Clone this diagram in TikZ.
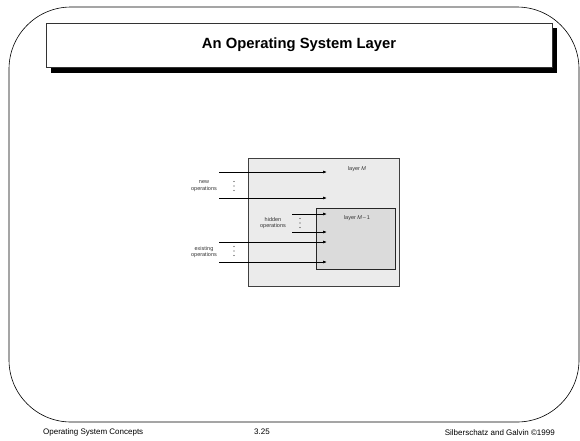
\documentclass[tikz,border=0pt]{standalone}
\usepackage{fontspec}
\setmainfont{Liberation Sans}
\usetikzlibrary{arrows.meta}

\begin{document}
\begin{tikzpicture}[x=1pt,y=-1pt,
  op/.style={-{Latex[length=4pt,width=3pt]},line width=0.7pt},
  lbl/.style={font=\fontsize{5.5}{6.2}\selectfont,align=center,text=black!80},
  foot/.style={font=\fontsize{8}{9}\selectfont,inner sep=0pt}]
  \useasboundingbox (0,0) rectangle (580,440);
  % slide frame
  \draw[rounded corners=62pt,line width=0.6pt] (9,7) rectangle (579,422);

  % title with shadow
  \fill (51,28) rectangle (557,73);
  \node[draw=black!80,fill=white,line width=0.5pt,minimum width=506pt,minimum height=44pt,inner sep=0pt,
    font=\bfseries\fontsize{14.8}{16}\selectfont] (title) at (299,45) {An Operating System Layer};

  % layers
  \node[draw=black!75,fill=black!8,line width=0.8pt,minimum width=151pt,minimum height=128pt,inner sep=0pt] (layerM) at (323.5,222) {};
  \node[draw=black!85,fill=black!14,line width=0.8pt,minimum width=79pt,minimum height=61pt,inner sep=0pt] (layerMm) at (355.5,238.5) {};
  \node[lbl] (nameM) at (357,169) {layer \textit{M}};
  \node[lbl] (nameMm) at (357,218) {layer \textit{M}\,–\,1};

  % operations
  \foreach \y/\n in {172/new1,198/new2,242/ex1,262/ex2} {
    \coordinate (\n-s) at (219,\y);
    \coordinate (\n-t) at (327,\y);
    \draw[op] (\n-s) -- (\n-t);
  }
  \foreach \y/\n in {214/hid1,232/hid2} {
    \coordinate (\n-s) at (292,\y);
    \coordinate (\n-t) at (327,\y);
    \draw[op] (\n-s) -- (\n-t);
  }
  \node[lbl] (newops) at (204,186) {new\\operations};
  \node[lbl] (hidops) at (273,223) {hidden\\operations};
  \node[lbl] (exops) at (204,252) {existing\\operations};
  \coordinate (newdots) at (234,186);
  \coordinate (hiddots) at (300,223);
  \coordinate (exdots) at (234,251);
  \foreach \p in {newdots,hiddots,exdots}
    \foreach \d in {-4.5,0,4.5}
      \fill[black!80] ([yshift=\d pt]\p) circle (0.55pt);

  % footer
  \node[foot,anchor=west] (course) at (43,432) {Operating System Concepts};
  \node[foot] (page) at (262,432) {3.25};
  \node[foot,anchor=east] (authors) at (555,433) {Silberschatz and Galvin ©1999};
\end{tikzpicture}
\end{document}
